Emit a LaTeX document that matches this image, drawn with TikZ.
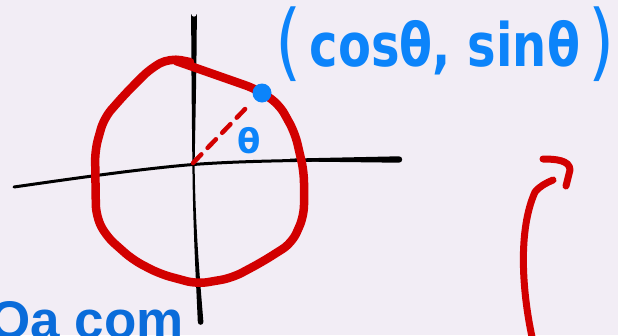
\documentclass[tikz,border=0pt]{standalone}
\usepackage{fontspec}
\setmainfont{DejaVu Sans}
\newfontfamily\labelfont{Liberation Sans}
\definecolor{bgc}{RGB}{242,237,245}
\definecolor{penred}{RGB}{210,0,0}
\definecolor{penblue}{RGB}{12,132,250}
\definecolor{txtblue}{RGB}{10,108,218}
\tikzset{
  redpen/.style={draw=penred, line width=8.5pt, line cap=round, line join=round},
  blackpen/.style={draw=black, line cap=round, line join=round},
  handtext/.style={text=penblue, inner sep=0pt, font=\bfseries}
}
\newcommand{\bigparen}[1]{{\mdseries\fontsize{84}{84}\selectfont\raisebox{-4pt}{#1}}}
\begin{document}
\begin{tikzpicture}[x=1pt,y=-1pt]
\fill[bgc] (0,0) rectangle (618,335);
\useasboundingbox (0,0) rectangle (618,335);
% vertical axis (tapered)
\fill[black] (191.2,14) .. controls (191.2,60) and (192,130) .. (192.4,165)
  .. controls (193,230) and (196,280) .. (197.8,322)
  arc[start angle=180, end angle=360, x radius=2.8pt, y radius=2.8pt]
  .. controls (200,280) and (195.5,230) .. (194.6,165)
  .. controls (195.2,130) and (196.8,60) .. (196.8,14)
  arc[start angle=0, end angle=-180, x radius=2.8pt, y radius=2.8pt] -- cycle;
% horizontal axis
\coordinate (hl) at (14,187);
\coordinate (hm) at (193,164.5);
\coordinate (hr) at (399,159.5);
\draw[blackpen, line width=3pt] (hl) .. controls (90,176) and (150,168) .. (hm)
  .. controls (240,161) and (300,160) .. (hr);
\fill[black] (290,158.6) -- (399,156.3) arc[start angle=90, end angle=-90, radius=3.2pt] -- (290,161.4) -- cycle;
% red circle
\draw[redpen, rounded corners=11pt] (176,61) -- (256,89) -- (279,104) -- (295,133) -- (304,172)
  -- (304,216) -- (292,243) -- (262,262) -- (232,278) -- (197,284) -- (160,274)
  -- (133,260) -- (106,236) -- (96,216) -- (95,150) -- (104,118) -- (126,93)
  -- (151,68) -- (170,58) -- (190,62);
% dashed radius
\coordinate (o) at (193,163);
\coordinate (p) at (248,106);
\draw[draw=penred, line width=4.5pt, line cap=round, dash pattern=on 12pt off 9pt] (o) -- (p);
% point
\node[circle, fill=penblue, minimum size=19pt, inner sep=0pt] (pt) at (262,93) {};
% theta label
\node[handtext, font=\bfseries\fontsize{34}{34}\selectfont] (th) at (249,141) {θ};
% coordinates label
\node[handtext, font=\bfseries\fontsize{60}{70}\selectfont, xscale=0.8] (lab) at (445,44) {\bigparen{(}\,cosθ, sinθ\,\bigparen{)}};
% red arrow
\coordinate (a0) at (532,337);
\coordinate (a1) at (553,180);
\draw[redpen, line width=7pt] (a0) .. controls (522,290) and (518,230) .. (535,192)
  .. controls (540,186) and (546,183) .. (a1);
\coordinate (h0) at (543,159);
\coordinate (h1) at (566,186);
\draw[redpen, line width=7pt] (h0) .. controls (555,159) and (570,160) .. (570,170) -- (h1);
% cut-off text
\node[anchor=base west, inner sep=0pt, text=txtblue, font=\labelfont\bfseries\fontsize{53}{60}\selectfont] (cut) at (-11,338) {Oa com};
\end{tikzpicture}
\end{document}
